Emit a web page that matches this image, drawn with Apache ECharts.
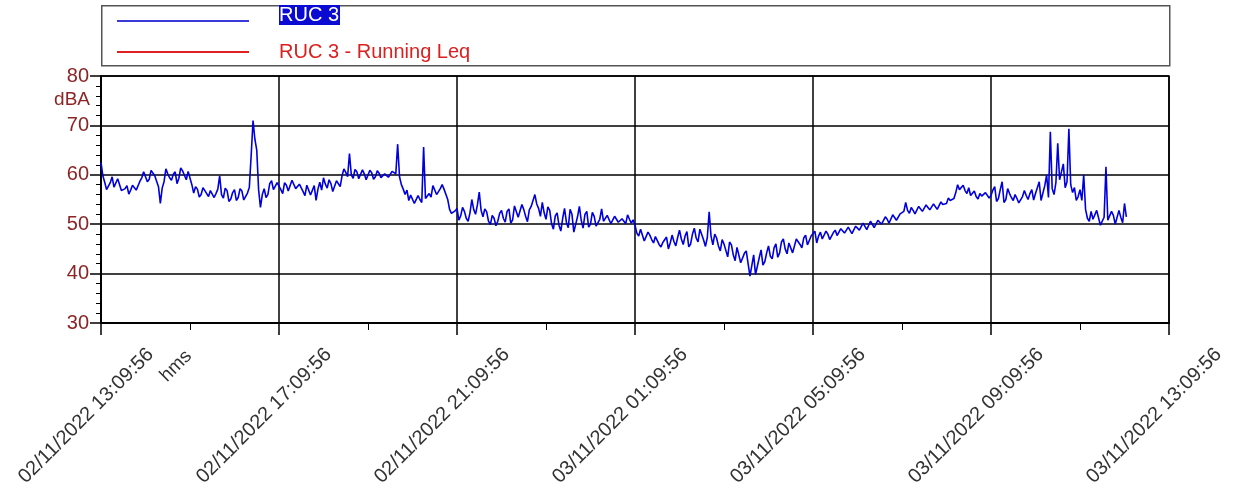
<!DOCTYPE html>
<html>
<head>
<meta charset="utf-8">
<script src="https://cdn.jsdelivr.net/npm/echarts@6/dist/echarts.min.js"></script>
<style>
html,body{margin:0;padding:0;background:#fff;}
#chart{width:1233px;height:495px;}
</style>
</head>
<body>
<div id="chart"></div>
<script>
// Start of record and sampling step (minutes)
const startLabel = '02/11/2022 13:09:56';
const stepMinutes = 2.5;
// X tick labels (every 4 hours)
const xTickLabels = ['02/11/2022 13:09:56','02/11/2022 17:09:56','02/11/2022 21:09:56','03/11/2022 01:09:56','03/11/2022 05:09:56','03/11/2022 09:09:56','03/11/2022 13:09:56'];
const seriesNames = ['RUC 3', 'RUC 3 - Running Leq'];
// RUC 3 level, dBA, one value per 2.5 minutes (one row per hour)
const ruc3 = [
62.5,59.8,58.5,57.0,57.2,58.4,59.6,57.5,57.8,59.2,58.9,56.8,56.4,57.2,57.8,56.1,56.9,57.9,58.3,56.9,56.6,58.7,59.4,60.6,
60.3,58.6,59.1,60.9,61.0,59.8,59.4,57.6,54.2,57.3,58.6,61.2,60.2,59.4,58.9,60.1,60.6,58.2,59.3,61.4,60.8,59.9,59.0,60.7,
60.4,58.0,56.3,57.6,57.1,55.5,56.0,57.4,57.6,56.2,55.6,56.8,57.0,55.4,56.2,57.1,59.8,56.0,55.3,57.3,56.8,54.6,55.1,56.4,
57.0,54.8,55.4,57.2,56.7,54.9,55.2,56.3,57.5,64.0,71.0,67.2,65.0,57.0,53.4,56.0,57.2,55.4,56.0,58.2,58.8,57.0,56.6,58.4,
58.0,57.0,56.2,58.4,57.9,56.7,56.5,58.9,58.6,57.2,56.9,58.1,58.3,56.6,55.8,57.9,57.6,55.9,56.3,57.8,54.8,57.1,58.5,56.9,
59.4,58.1,57.3,59.0,58.2,56.6,57.0,58.8,58.4,57.6,59.8,61.2,60.5,59.6,64.3,60.0,59.3,61.1,60.6,59.2,59.5,61.0,60.2,59.0,
59.2,60.9,60.4,59.1,59.6,60.8,60.3,59.4,59.7,60.2,60.6,59.5,59.9,60.7,61.0,60.2,66.2,59.6,58.0,57.1,56.0,56.9,54.8,55.9,
55.6,54.2,54.6,55.8,55.0,54.4,65.6,55.2,54.9,56.2,55.5,57.8,57.4,56.0,56.6,57.2,58.0,57.1,56.8,55.0,53.0,52.2,51.8,52.7,
53.2,50.8,51.7,53.4,52.6,51.2,50.6,52.3,55.0,53.0,52.0,53.9,56.5,52.8,51.5,53.1,52.5,50.6,49.9,51.8,51.2,49.7,50.6,52.2,
52.8,51.2,50.4,52.6,53.1,50.2,50.9,53.7,53.4,51.4,51.2,54.0,53.0,51.6,50.5,52.9,53.6,54.8,56.0,54.1,53.2,51.6,54.4,52.3,
51.0,53.5,52.8,50.1,49.0,51.7,52.3,49.8,48.6,51.2,53.2,50.4,49.3,53.0,52.0,48.4,48.8,51.5,53.6,50.8,49.2,52.0,52.6,49.4,
50.0,52.4,51.6,49.6,49.2,51.0,53.1,50.6,50.4,51.8,51.5,50.1,50.2,51.6,51.2,50.4,50.0,51.1,50.7,50.1,51.9,51.0,50.2,50.9,
49.8,48.2,47.6,49.0,48.8,46.6,47.0,48.4,47.8,46.9,46.2,47.5,47.2,45.9,45.4,46.3,46.6,47.4,45.0,46.2,47.8,46.5,45.6,47.3,
48.8,47.0,45.9,47.6,48.5,45.4,46.0,48.0,49.2,47.2,46.4,49.0,48.6,46.8,45.5,47.3,52.5,47.6,45.8,48.0,47.2,45.6,44.6,46.9,
46.0,44.7,43.4,46.4,45.8,43.8,42.6,45.3,45.0,42.2,41.8,44.1,44.6,42.0,39.5,41.6,43.8,39.8,40.2,43.2,44.8,41.7,42.4,44.2,
45.6,43.5,43.0,45.2,46.0,43.3,44.2,46.4,47.0,45.0,44.0,46.2,46.6,44.2,44.6,47.0,47.4,45.9,45.2,47.2,47.8,45.8,46.0,47.6,
47.2,48.6,46.2,47.6,48.4,47.0,46.8,48.6,48.0,46.9,47.2,48.3,48.8,47.7,47.5,49.1,49.0,48.2,48.0,49.4,49.3,48.1,48.2,49.6,
49.5,48.8,48.6,50.2,49.8,48.9,49.0,50.6,50.4,49.3,49.6,50.8,51.2,50.0,50.2,51.5,51.0,50.2,50.6,51.9,51.6,50.8,51.0,52.1,
52.0,52.6,54.4,52.8,52.2,53.4,52.8,52.1,52.4,53.6,53.2,52.6,52.8,53.9,53.4,52.9,53.0,54.1,53.8,53.0,53.4,54.5,54.0,53.6,
54.2,55.3,54.8,54.5,55.2,56.4,58.0,57.0,57.2,57.9,56.8,56.2,57.4,55.8,56.0,56.7,55.6,55.1,56.2,55.7,55.4,56.4,56.0,55.3,
55.8,56.9,57.6,54.6,55.2,57.0,58.6,54.4,55.0,57.2,56.2,55.4,54.8,56.0,55.2,54.3,54.6,55.6,56.8,55.8,55.0,56.2,57.0,54.9,
56.2,57.4,58.6,54.8,55.0,57.8,60.0,55.4,68.7,57.2,56.0,58.4,66.4,59.0,60.6,62.2,57.4,58.6,69.3,58.0,56.4,57.4,54.8,55.6,
57.0,54.8,60.0,53.0,51.2,50.6,52.6,51.0,50.8,52.8,52.4,49.8,50.2,51.4,61.6,50.8,50.4,52.6,51.8,50.0,50.2,52.8,51.4,50.3,
54.2,51.5
];
// Running Leq: no values shown in the plot
const runningLeq = [];

const FONT = 'Liberation Sans, Arial, sans-serif';
const ruc3Data = ruc3.map((v, i) => [i * stepMinutes / 60, v]);

const chart = echarts.init(document.getElementById('chart'), null, {renderer: 'canvas'});
chart.setOption({
  animation: false,
  backgroundColor: '#fff',
  grid: {left: 101, right: 64, top: 76, bottom: 172, show: true, borderColor: '#000', borderWidth: 1.5, containLabel: false},
  graphic: [
    {type: 'rect', left: 101, top: 5, shape: {width: 1068, height: 60}, style: {fill: '#fff', stroke: '#555', lineWidth: 1.5}, z: 0},
    {type: 'text', right: 1233 - 90, top: 90, style: {text: 'dBA', font: '19px ' + FONT, fill: '#8b2525', textAlign: 'right'}},
    {type: 'text', x: 176, y: 366, rotation: Math.PI / 4, style: {text: 'hms', font: '19px ' + FONT, fill: '#333', align: 'center', verticalAlign: 'middle'}}
  ],
  legend: {
    orient: 'vertical', left: 117, top: 5, padding: 0, itemWidth: 132, itemHeight: 2, itemGap: 11,
    icon: 'rect', selectedMode: false,
    data: [
      {name: seriesNames[0], itemStyle: {color: '#3a3ad8'}},
      {name: seriesNames[1], itemStyle: {color: '#e02020'}}
    ],
    formatter: n => n === seriesNames[0] ? '{sp|}{hl|' + n + '}' : '{sp2|}{rd|' + n + '}',
    textStyle: {
      fontFamily: FONT, fontSize: 20,
      rich: {
        sp: {width: 25, height: 32},
        sp2: {width: 25},
        hl: {color: '#fff', backgroundColor: '#0a0ad2', fontSize: 20, fontFamily: FONT, lineHeight: 20, verticalAlign: 'top', padding: [0, 1, 0, 0]},
        rd: {color: '#dc2020', fontSize: 20, fontFamily: FONT, lineHeight: 22}
      }
    }
  },
  xAxis: {
    type: 'value', min: 0, max: 24, interval: 4,
    axisLine: {lineStyle: {color: '#000', width: 2}},
    axisTick: {show: true, length: 12, lineStyle: {color: '#000', width: 1.5}},
    minorTick: {show: true, splitNumber: 2, length: 7, lineStyle: {color: '#000', width: 1}},
    splitLine: {show: true, lineStyle: {color: '#000', width: 1.5}},
    axisLabel: {
      rotate: 45, margin: 78, align: 'center', verticalAlign: 'middle',
      padding: [0, 42, 0, 0],
      color: '#333', fontSize: 20, fontFamily: FONT,
      formatter: v => xTickLabels[Math.round(v / 4)] || ''
    }
  },
  yAxis: {
    type: 'value', min: 30, max: 80, interval: 10,
    axisLine: {show: true, lineStyle: {color: '#000', width: 2}},
    axisTick: {show: true, length: 11, lineStyle: {color: '#000', width: 1.5}},
    minorTick: {show: true, splitNumber: 5, length: 5, lineStyle: {color: '#000', width: 1}},
    splitLine: {show: true, lineStyle: {color: '#000', width: 1.5}},
    axisLabel: {margin: 12, color: '#8b2525', fontSize: 20, fontFamily: FONT}
  },
  series: [
    {name: seriesNames[0], type: 'line', data: ruc3Data, showSymbol: false, symbol: 'none',
     lineStyle: {color: '#0000dd', width: 1.6}, itemStyle: {color: '#3a3ad8'}, z: 3},
    {name: seriesNames[1], type: 'line', data: runningLeq, showSymbol: false, symbol: 'none',
     lineStyle: {color: '#e02020', width: 2.5}, itemStyle: {color: '#e02020'}}
  ]
});
</script>
</body>
</html>
